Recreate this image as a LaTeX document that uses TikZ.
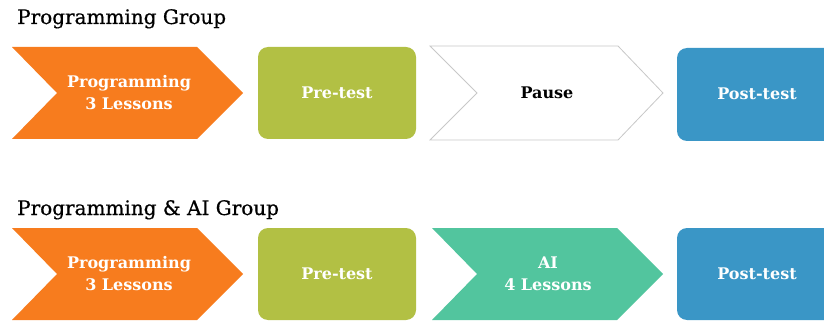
\documentclass[tikz,border=0pt]{standalone}
\usepackage{fontspec}
\setmainfont{DejaVu Serif}
\newfontfamily\titlefont[FakeBold=0.6]{DejaVu Serif}
\definecolor{progorange}{HTML}{F77C1E}
\definecolor{testolive}{HTML}{B2C044}
\definecolor{aiteal}{HTML}{52C59E}
\definecolor{postblue}{HTML}{3A96C6}
\definecolor{pausegray}{HTML}{C8C8C8}
\tikzset{
  grouptitle/.style={anchor=base west, font=\titlefont\fontsize{20}{24}\selectfont, text=black, inner sep=0pt},
  label/.style={align=center, font=\bfseries\fontsize{16}{22}\selectfont, text=white, inner sep=0pt},
  darklabel/.style={label, text=black},
  testbox/.style={rounded corners=10pt, draw=none}
}
\begin{document}
\begin{tikzpicture}[x=1pt,y=-1pt]
\useasboundingbox (0,0) rectangle (824,323);
\clip (0,0) rectangle (824,323);

% ---- Programming group ----
\node[grouptitle] (t1) at (17,24) {Programming Group};

\fill[progorange] (12,47) -- (197,47) -- (243,93) -- (197,139) -- (12,139) -- (57,93) -- cycle;
\node[label] (p1) at (129,93) {Programming\\3 Lessons};

\fill[testolive, testbox] (258,47) rectangle (416,139);
\node[label] (pre1) at (337,93) {Pre-test};

\filldraw[fill=white, draw=pausegray, line width=0.8pt] (430,46) -- (618,46) -- (663,93) -- (618,140) -- (430,140) -- (477,93) -- cycle;
\node[darklabel] (pause) at (547,93) {Pause};

\fill[postblue, testbox] (677,48) rectangle (836,141);
\node[label] (post1) at (757,94) {Post-test};

% ---- Programming & AI group ----
\node[grouptitle] (t2) at (17,215) {Programming \& AI Group};

\fill[progorange] (12,228) -- (197,228) -- (243,274) -- (197,320) -- (12,320) -- (57,274) -- cycle;
\node[label] (p2) at (129,274) {Programming\\3 Lessons};

\fill[testolive, testbox] (258,228) rectangle (416,320);
\node[label] (pre2) at (337,274) {Pre-test};

\fill[aiteal] (432,228) -- (617,228) -- (663,274) -- (617,320) -- (432,320) -- (477,274) -- cycle;
\node[label] (ai) at (548,274) {AI\\4 Lessons};

\fill[postblue, testbox] (677,228) rectangle (836,320);
\node[label] (post2) at (757,274) {Post-test};
\end{tikzpicture}
\end{document}
